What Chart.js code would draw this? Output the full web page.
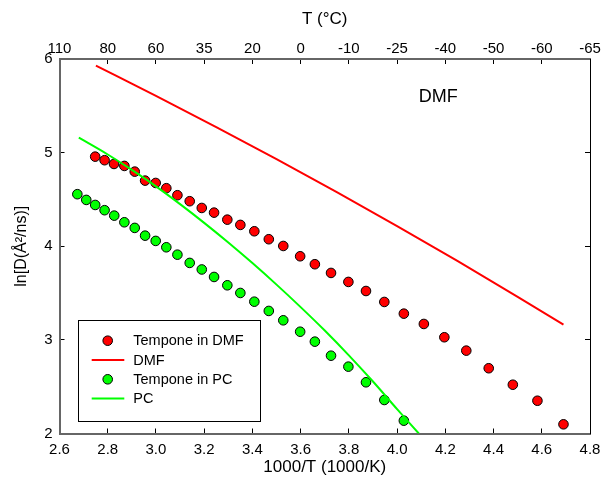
<!DOCTYPE html>
<html><head><meta charset="utf-8">
<script src="https://cdn.jsdelivr.net/npm/chart.js@4"></script>
<style>html,body{margin:0;padding:0;background:#fff}canvas{display:block}</style>
</head><body>
<canvas id="c" width="602" height="492"></canvas>
<script>
// ---- data ----
const dmfPointX = [2.748,2.787,2.826,2.869,2.912,2.955,2.999,3.043,3.089,3.140,3.190,3.241,3.296,3.350,3.408,3.468,3.528,3.598,3.659,3.726,3.798,3.871,3.947,4.028,4.111,4.196,4.287,4.380,4.480,4.582,4.690];
const dmfPointY = [4.957,4.919,4.879,4.858,4.797,4.701,4.676,4.620,4.545,4.481,4.409,4.359,4.284,4.228,4.160,4.075,4.003,3.893,3.808,3.715,3.619,3.522,3.405,3.280,3.170,3.028,2.885,2.697,2.521,2.350,2.098];
const pcPointX = [2.674,2.711,2.748,2.787,2.827,2.869,2.912,2.955,2.999,3.043,3.089,3.140,3.190,3.241,3.296,3.350,3.408,3.468,3.528,3.598,3.659,3.726,3.798,3.871,3.947,4.028];
const pcPointY = [4.556,4.495,4.441,4.385,4.327,4.256,4.196,4.113,4.057,3.989,3.910,3.822,3.752,3.672,3.583,3.501,3.408,3.309,3.209,3.087,2.981,2.831,2.714,2.547,2.358,2.137];
const dmfLineX = [2.751,3.0,3.25,3.5,3.75,4.0,4.25,4.5,4.69];
const dmfLineY = [5.93,5.606,5.273,4.930,4.578,4.215,3.843,3.460,3.164];
const pcLineX = [2.68,2.8,2.9,3.0,3.1,3.2,3.3,3.4,3.5,3.6,3.7,3.8,3.9,4.0,4.09];
const pcLineY = [5.16,4.98,4.815,4.64,4.45,4.25,4.04,3.82,3.59,3.35,3.10,2.835,2.555,2.26,2.0];
const seriesNames = ['Tempone in DMF','DMF','Tempone in PC','PC'];
const xTickValues = [2.6,2.8,3.0,3.2,3.4,3.6,3.8,4.0,4.2,4.4,4.6,4.8];
const xTickLabels = ['2.6','2.8','3.0','3.2','3.4','3.6','3.8','4.0','4.2','4.4','4.6','4.8'];
const topTickLabels = ['110','80','60','35','20','0','-10','-25','-40','-50','-60','-65'];
const yTickValues = [2,3,4,5,6];
const yTickLabels = ['2','3','4','5','6'];
const annotationText = 'DMF';
const annotationPos = [4.09, 5.595];

const pts = (xs, ys) => xs.map((x, i) => ({x, y: ys[i]}));
const FAM = "'Liberation Sans', Arial, sans-serif";
Chart.defaults.color = '#000';
Chart.defaults.font.family = FAM;

const legendPlugin = {
  id: 'boxLegend',
  afterDatasetsDraw(chart) {
    const {ctx, chartArea: a} = chart;
    const bx = Math.round(a.left + 18.5), by = Math.round(a.bottom - 113.5), bw = 182, bh = 101;
    ctx.save();
    ctx.fillStyle = '#fff';
    ctx.fillRect(bx, by, bw, bh);
    ctx.strokeStyle = '#000';
    ctx.lineWidth = 1;
    ctx.strokeRect(bx + 0.5, by + 0.5, bw, bh);
    ctx.font = '14.5px ' + FAM;
    ctx.textBaseline = 'middle';
    ctx.textAlign = 'left';
    chart.data.datasets.forEach((ds, i) => {
      const cy = by + 20.7 + i * 19.3;
      if (ds.showLine) {
        ctx.strokeStyle = ds.borderColor;
        ctx.lineWidth = ds.borderWidth;
        ctx.beginPath();
        ctx.moveTo(bx + 13.7, cy);
        ctx.lineTo(bx + 46.3, cy);
        ctx.stroke();
      } else {
        ctx.beginPath();
        ctx.arc(bx + 29.7, cy, ds.pointRadius, 0, Math.PI * 2);
        ctx.fillStyle = ds.backgroundColor;
        ctx.fill();
        ctx.strokeStyle = ds.borderColor;
        ctx.lineWidth = ds.borderWidth;
        ctx.stroke();
      }
      ctx.fillStyle = '#000';
      ctx.fillText(ds.label, bx + 55.3, cy + 0.5);
    });
    const xs = chart.scales.x, ys = chart.scales.y;
    ctx.font = '18px ' + FAM;
    ctx.fillText(annotationText, xs.getPixelForValue(annotationPos[0]), ys.getPixelForValue(annotationPos[1]));
    ctx.restore();
  }
};

const tickGrid = {drawOnChartArea: false, tickLength: -5, color: '#000', lineWidth: 1};
const noPad = s => { s.paddingLeft = 0; s.paddingRight = 0; s.paddingTop = 0; s.paddingBottom = 0; };

new Chart(document.getElementById('c'), {
  type: 'scatter',
  data: {
    datasets: [
      {label: seriesNames[0], data: pts(dmfPointX, dmfPointY), backgroundColor: '#ff0000', borderColor: '#000', borderWidth: 1, pointRadius: 4.8, order: 3},
      {label: seriesNames[1], data: pts(dmfLineX, dmfLineY), showLine: true, borderColor: '#ff0000', backgroundColor: '#ff0000', borderWidth: 2, pointRadius: 0, cubicInterpolationMode: 'monotone', order: 2},
      {label: seriesNames[2], data: pts(pcPointX, pcPointY), backgroundColor: '#00ff00', borderColor: '#000', borderWidth: 1, pointRadius: 4.8, order: 1},
      {label: seriesNames[3], data: pts(pcLineX, pcLineY), showLine: true, borderColor: '#00ff00', backgroundColor: '#00ff00', borderWidth: 2, pointRadius: 0, cubicInterpolationMode: 'monotone', order: 0}
    ]
  },
  options: {
    responsive: false,
    animation: false,
    devicePixelRatio: 1,
    layout: {padding: 0},
    plugins: {legend: {display: false}, tooltip: {enabled: false}},
    scales: {
      x: {
        type: 'linear', position: 'bottom', min: 2.6, max: 4.8,
        afterBuildTicks: s => { s.ticks = xTickValues.map(v => ({value: v})); },
        ticks: {callback: (v, i) => xTickLabels[i], font: {size: 15}, padding: 12, maxRotation: 0, autoSkip: false},
        grid: tickGrid,
        border: {color: '#666', width: 2},
        title: {display: true, text: '1000/T (1000/K)', font: {size: 17}, padding: {top: 0, bottom: 14}},
        afterFit: s => { s.height = 58.5; noPad(s); }
      },
      x2: {
        type: 'linear', position: 'top', min: 2.6, max: 4.8,
        afterBuildTicks: s => { s.ticks = xTickValues.map(v => ({value: v})); },
        ticks: {callback: (v, i) => topTickLabels[i], font: {size: 15}, padding: 6, maxRotation: 0, autoSkip: false},
        grid: tickGrid,
        border: {color: '#666', width: 2},
        title: {display: true, text: 'T (°C)', font: {size: 17}, padding: {top: 9, bottom: 0}},
        afterFit: s => { s.height = 59; noPad(s); }
      },
      y: {
        type: 'linear', position: 'left', min: 2, max: 6,
        afterBuildTicks: s => { s.ticks = yTickValues.map(v => ({value: v})); },
        ticks: {callback: (v, i) => yTickLabels[i], font: {size: 15}, padding: 12},
        grid: tickGrid,
        border: {color: '#666', width: 2},
        title: {display: true, text: 'ln[D(Å²/ns)]', font: {size: 16}, padding: {top: 12, bottom: 0}},
        afterFit: s => { s.width = 59.5; noPad(s); }
      },
      y2: {
        type: 'linear', position: 'right', min: 2, max: 6,
        afterBuildTicks: s => { s.ticks = yTickValues.map(v => ({value: v})); },
        ticks: {display: false},
        grid: tickGrid,
        border: {color: '#000', width: 1},
        afterFit: s => { s.width = 12; noPad(s); }
      }
    }
  },
  plugins: [legendPlugin]
});
</script>
</body></html>
